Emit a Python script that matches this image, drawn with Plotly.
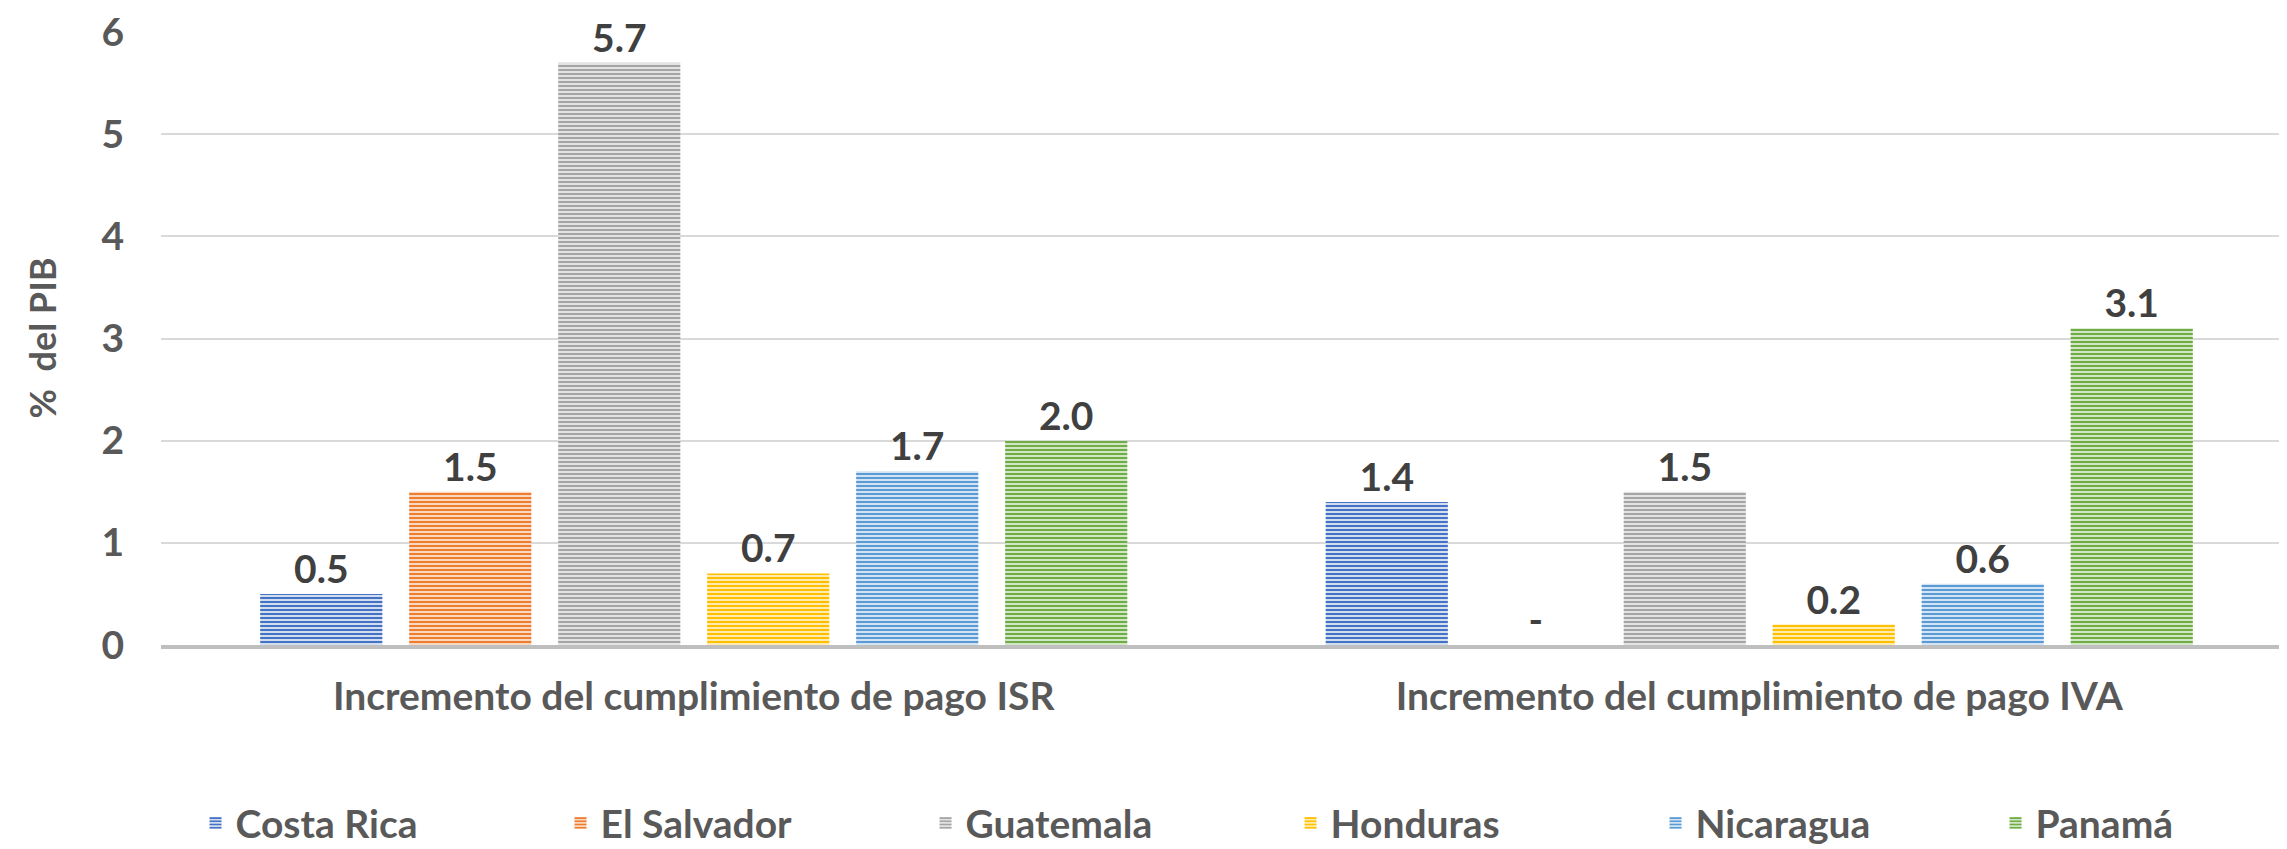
import plotly.graph_objects as go

categories = ["Incremento del cumplimiento de pago ISR", "Incremento del cumplimiento de pago IVA"]
countries = ["Costa Rica", "El Salvador", "Guatemala", "Honduras", "Nicaragua", "Panamá"]
isr_values = [0.5, 1.5, 5.7, 0.7, 1.7, 2.0]
iva_values = [1.4, 0.0, 1.5, 0.2, 0.6, 3.1]
y_ticks = [0, 1, 2, 3, 4, 5, 6]

dark_colors = ["#4472C4", "#ED7D31", "#A5A5A5", "#FFC000", "#5B9BD5", "#70AD47"]
light_colors = ["#D3DDF0", "#FAD7BF", "#E3E3E3", "#FFEBB0", "#D2E4F3", "#D1E6C4"]

FONT = "Lato"
FS = 39
W, H = 2287, 849
L, R, T, B = 153, 3, 24, 212
LEG_X = 0.082
ENTRY_W = 320

fig = go.Figure()
for i, c in enumerate(countries):
    vals = [isr_values[i], iva_values[i]]
    labels = ["-" if v == 0 else f"{v:.1f}" for v in vals]
    fig.add_trace(go.Bar(
        name=c,
        x=categories,
        y=vals,
        text=labels,
        textposition="outside",
        cliponaxis=False,
        legend="legend" if i < 5 else "legend2",
        textfont=dict(family=FONT, size=FS, color="#404040", weight=700),
        marker=dict(
            color=dark_colors[i],
            line=dict(color=dark_colors[i], width=0),
            pattern=dict(shape="-", size=4, solidity=0.5,
                         fgcolor=dark_colors[i], bgcolor=light_colors[i],
                         fillmode="replace"),
        ),
    ))

legend_common = dict(
    orientation="h", xref="container", yref="container",
    xanchor="left", y=0.040, yanchor="middle",
    entrywidth=ENTRY_W, entrywidthmode="pixels",
    font=dict(family=FONT, size=FS, color="#595959", weight=700),
    traceorder="normal", bgcolor="rgba(0,0,0,0)",
)

fig.update_layout(
    width=W, height=H,
    margin=dict(l=L, r=R, t=T, b=B, autoexpand=False),
    paper_bgcolor="white", plot_bgcolor="white",
    barmode="group", bargap=0.161, bargroupgap=0.18,
    font=dict(family=FONT, size=FS, color="#595959", weight=700),
    showlegend=True,
    legend=dict(x=LEG_X, **legend_common),
    legend2=dict(x=LEG_X + 5 * (ENTRY_W + 40) / W, **legend_common),
    xaxis=dict(
        showgrid=False, showline=True, linecolor="#BFBFBF", linewidth=4,
        ticks="", ticklabelstandoff=14,
        tickfont=dict(family=FONT, size=FS, color="#595959", weight=700),
        automargin=False,
    ),
    yaxis=dict(
        range=[0, 6], tickvals=y_ticks, showgrid=True, gridcolor="#D9D9D9", gridwidth=1.5,
        zeroline=False, showline=False, ticks="", ticklabelstandoff=36,
        ticklabeloverflow="allow",
        tickfont=dict(family=FONT, size=FS, color="#595959", weight=700),
        automargin=False,
    ),
    annotations=[dict(
        text="%  del PIB", xref="paper", yref="paper",
        x=(33 - L) / (W - L - R), y=0.5, xanchor="center", yanchor="middle",
        textangle=-90, showarrow=False,
        font=dict(family=FONT, size=36, color="#595959", weight=700),
    )],
)

fig.write_html("out.html")
